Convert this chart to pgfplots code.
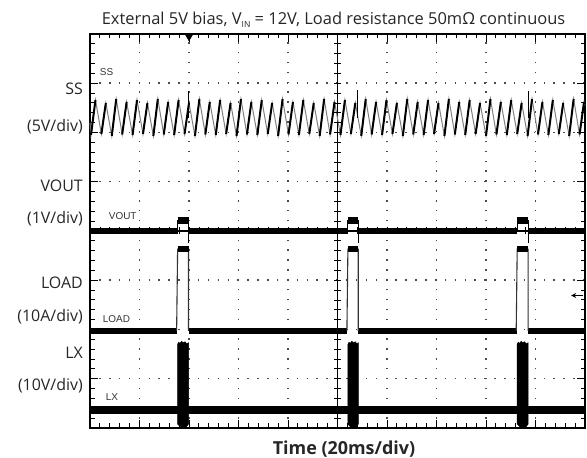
\documentclass[border=0pt]{standalone}
\usepackage{fontspec}
\setmainfont{Open Sans}
\newfontfamily\scopefont{Liberation Sans}
\usepackage{pgfplots}
\usepackage{pgfplotstable}
\usetikzlibrary{arrows.meta}
\pgfplotsset{compat=1.18}

% SS sawtooth: x y (full trace) and yb (rising edges only)
\pgfplotstableread{
x y yb
0.00 6.20 nan
0.02 5.95 5.95
0.11 6.66 6.66
0.11 6.66 nan
0.23 5.97 5.97
0.32 6.60 6.60
0.32 6.60 nan
0.44 5.93 5.93
0.53 6.68 6.68
0.53 6.68 nan
0.65 5.96 5.96
0.74 6.62 6.62
0.74 6.62 nan
0.86 5.95 5.95
0.95 6.66 6.66
0.95 6.66 nan
1.07 5.97 5.97
1.16 6.60 6.60
1.16 6.60 nan
1.28 5.93 5.93
1.37 6.68 6.68
1.37 6.68 nan
1.49 5.96 5.96
1.58 6.62 6.62
1.58 6.62 nan
1.70 5.95 5.95
1.79 6.66 6.66
1.79 6.66 nan
1.91 5.97 5.97
2.00 6.60 6.60
2.00 6.60 nan
2.12 5.93 5.93
2.21 6.68 6.68
2.21 6.68 nan
2.33 5.96 5.96
2.42 6.62 6.62
2.42 6.62 nan
2.54 5.95 5.95
2.63 6.66 6.66
2.63 6.66 nan
2.75 5.97 5.97
2.84 6.60 6.60
2.84 6.60 nan
2.96 5.93 5.93
3.05 6.68 6.68
3.05 6.68 nan
3.17 5.96 5.96
3.26 6.62 6.62
3.26 6.62 nan
3.38 5.95 5.95
3.47 6.66 6.66
3.47 6.66 nan
3.59 5.97 5.97
3.68 6.60 6.60
3.68 6.60 nan
3.80 5.93 5.93
3.89 6.68 6.68
3.89 6.68 nan
4.01 5.96 5.96
4.10 6.62 6.62
4.10 6.62 nan
4.22 5.95 5.95
4.31 6.66 6.66
4.31 6.66 nan
4.43 5.97 5.97
4.52 6.60 6.60
4.52 6.60 nan
4.64 5.93 5.93
4.73 6.68 6.68
4.73 6.68 nan
4.85 5.96 5.96
4.94 6.62 6.62
4.94 6.62 nan
5.06 5.95 5.95
5.15 6.66 6.66
5.15 6.66 nan
5.27 5.97 5.97
5.36 6.60 6.60
5.36 6.60 nan
5.48 5.93 5.93
5.57 6.68 6.68
5.57 6.68 nan
5.69 5.96 5.96
5.78 6.62 6.62
5.78 6.62 nan
5.90 5.95 5.95
5.99 6.66 6.66
5.99 6.66 nan
6.11 5.97 5.97
6.20 6.60 6.60
6.20 6.60 nan
6.32 5.93 5.93
6.41 6.68 6.68
6.41 6.68 nan
6.53 5.96 5.96
6.62 6.62 6.62
6.62 6.62 nan
6.74 5.95 5.95
6.83 6.66 6.66
6.83 6.66 nan
6.95 5.97 5.97
7.04 6.60 6.60
7.04 6.60 nan
7.16 5.93 5.93
7.25 6.68 6.68
7.25 6.68 nan
7.37 5.96 5.96
7.46 6.62 6.62
7.46 6.62 nan
7.58 5.95 5.95
7.67 6.66 6.66
7.67 6.66 nan
7.79 5.97 5.97
7.88 6.60 6.60
7.88 6.60 nan
8.00 5.93 5.93
8.09 6.68 6.68
8.09 6.68 nan
8.21 5.96 5.96
8.30 6.62 6.62
8.30 6.62 nan
8.42 5.95 5.95
8.51 6.66 6.66
8.51 6.66 nan
8.63 5.97 5.97
8.72 6.60 6.60
8.72 6.60 nan
8.84 5.93 5.93
8.93 6.68 6.68
8.93 6.68 nan
9.05 5.96 5.96
9.14 6.62 6.62
9.14 6.62 nan
9.26 5.95 5.95
9.35 6.66 6.66
9.35 6.66 nan
9.47 5.97 5.97
9.56 6.60 6.60
9.56 6.60 nan
9.68 5.93 5.93
9.77 6.68 6.68
9.77 6.68 nan
9.89 5.96 5.96
9.98 6.62 6.62
9.98 6.62 nan
10.00 6.55 nan
}\sstable

\begin{document}
\begin{tikzpicture}[x=1bp,y=1bp]
\path[use as bounding box] (0,0) rectangle (587,458);
\begin{axis}[
  at={(90bp,30bp)}, anchor=south west,
  width=495bp, height=394bp, scale only axis,
  xmin=0, xmax=10, ymin=0, ymax=8,
  xtick={0,...,10}, ytick={0,...,8},
  minor x tick num=4, minor y tick num=4,
  xticklabels={}, yticklabels={},
  tick align=inside, tick pos=both,
  major tick length=8bp, minor tick length=4.5bp,
  tick style={black, line width=0.9bp},
  grid=major,
  major grid style={black!70, line width=1.5bp, dash pattern=on 1.5bp off 8.375bp, dash phase=0.75bp},
  axis line style={line width=1.4bp},
  clip=false,
  unbounded coords=jump,
]
% centre cross
\addplot[black, line width=0.9bp] coordinates {(5,0)(5,8)};
\addplot[black, line width=0.9bp] coordinates {(0,4)(10,4)};

% SS
\addplot[black!50, line width=1bp] table[x=x, y=y] {\sstable};
\addplot[black, line width=2bp] table[x=x, y=yb] {\sstable};
\addplot[black, line width=0.8bp] coordinates {(1.98,6.3)(1.98,6.84) (3,nan) (5.41,6.3)(5.41,6.86) (7,nan) (8.85,6.3)(8.85,6.84)};

% VOUT
\addplot[black, line width=5.5bp] coordinates {(0,4.0)(1.77,4.0)(1.88,nan)(1.99,4.0)(5.21,4.0)(5.31,nan)(5.42,4.0)(8.63,4.0)(8.74,nan)(8.85,4.0)(10,4.0)};
\addplot[black, line width=1.1bp] coordinates {(1.77,4.0)(1.77,4.22)(1.99,4.22)(1.99,3.76)(1.99,4.0)(1.77,4.0)
  (3,nan) (5.21,4.0)(5.21,4.22)(5.42,4.22)(5.42,3.76)(5.42,4.0)(5.21,4.0)
  (7,nan) (8.63,4.0)(8.63,4.22)(8.85,4.22)(8.85,3.76)(8.85,4.0)(8.63,4.0)};
\addplot[black, line width=7bp] coordinates {(1.77,4.22)(1.99,4.22)(3,nan)(5.21,4.22)(5.42,4.22)(7,nan)(8.63,4.22)(8.85,4.22)};

% LOAD
\addplot[black, line width=6bp] coordinates {(0,1.97)(1.76,1.97)(1.88,nan)(1.99,1.97)(5.20,1.97)(5.31,nan)(5.42,1.97)(8.62,1.97)(8.74,nan)(8.85,1.97)(10,1.97)};
\addplot[black!80, line width=1.1bp] coordinates {(1.75,1.97)(1.77,3.63)(1.99,3.63)(1.99,1.97)
  (3,nan) (5.19,1.97)(5.21,3.63)(5.42,3.63)(5.42,1.97)
  (7,nan) (8.61,1.97)(8.63,3.63)(8.85,3.63)(8.85,1.97)};
\addplot[black, line width=6bp] coordinates {(1.77,3.63)(1.99,3.63)(3,nan)(5.21,3.63)(5.42,3.63)(7,nan)(8.63,3.63)(8.85,3.63)};

% LX
\addplot[black, line width=7.5bp] coordinates {(0,0.37)(10,0.37)};
\addplot[fill=black, draw=black, line width=0.5bp] coordinates {(1.77,0.08)(1.77,1.70)(1.79,1.74)(1.82,1.72)(1.85,1.76)(1.88,1.73)(1.92,1.75)(1.95,1.71)(1.99,1.73)(1.99,0.08)(1.93,0.00)(1.85,0.00)} -- cycle;
\addplot[fill=black, draw=black, line width=0.5bp] coordinates {(5.21,0.08)(5.21,1.70)(5.23,1.74)(5.26,1.72)(5.29,1.76)(5.32,1.73)(5.36,1.75)(5.39,1.71)(5.42,1.73)(5.42,0.08)(5.36,0.00)(5.28,0.00)} -- cycle;
\addplot[fill=black, draw=black, line width=0.5bp] coordinates {(8.63,0.08)(8.63,1.70)(8.65,1.74)(8.68,1.72)(8.71,1.76)(8.74,1.73)(8.78,1.75)(8.81,1.71)(8.85,1.73)(8.85,0.08)(8.79,0.00)(8.71,0.00)} -- cycle;

% markers
\addplot[only marks, mark=triangle*, mark size=4bp, mark options={rotate=180, fill=black, draw=black}] coordinates {(2.0,7.94)};
\addplot[black, line width=1.2bp, -{Stealth[length=5bp,width=5bp]}] coordinates {(9.96,2.69)(9.72,2.69)};

% screen labels
\node[anchor=west, font=\scopefont\fontsize{10}{11}\selectfont, text=black!80] at (axis cs:0.13,7.23) {SS};
\node[anchor=west, font=\scopefont\fontsize{10}{11}\selectfont, text=black!80] at (axis cs:0.31,4.30) {VOUT};
\node[anchor=west, font=\scopefont\fontsize{10}{11}\selectfont, text=black!80] at (axis cs:0.19,2.21) {LOAD};
\node[anchor=west, font=\scopefont\fontsize{10}{11}\selectfont, text=black!80] at (axis cs:0.25,0.63) {LX};
\end{axis}

% centre cross minor ticks
\foreach \i in {0,...,40} \draw[line width=0.8bp] (334,{30+9.85*\i}) -- (341,{30+9.85*\i});
\foreach \i in {0,...,50} \draw[line width=0.8bp] ({90+9.9*\i},223.5) -- ({90+9.9*\i},230.5);

% left labels
\begin{scope}[every node/.style={anchor=base east, font=\fontsize{16}{18}\selectfont, text=black!85, inner sep=0pt}]
\node at (83,363) {SS};
\node at (83,326) {(5V/div)};
\node at (83,266) {VOUT};
\node at (83,234) {(1V/div)};
\node at (83,169) {LOAD};
\node at (83,136) {(10A/div)};
\node at (83,99) {LX};
\node at (83,67) {(10V/div)};
\end{scope}

% title and x label
\node[anchor=base, inner sep=0pt, font=\fontsize{16.5}{18}\selectfont, text=black!85] at (333.5,433) {External 5V bias, V\raisebox{-2.5bp}{\fontsize{8.5}{9}\selectfont IN} = 12V, Load resistance 50mΩ continuous};
\node[anchor=base, inner sep=0pt, font=\bfseries\fontsize{18}{20}\selectfont, text=black!85] at (344,3) {Time (20ms/div)};
\end{tikzpicture}
\end{document}
